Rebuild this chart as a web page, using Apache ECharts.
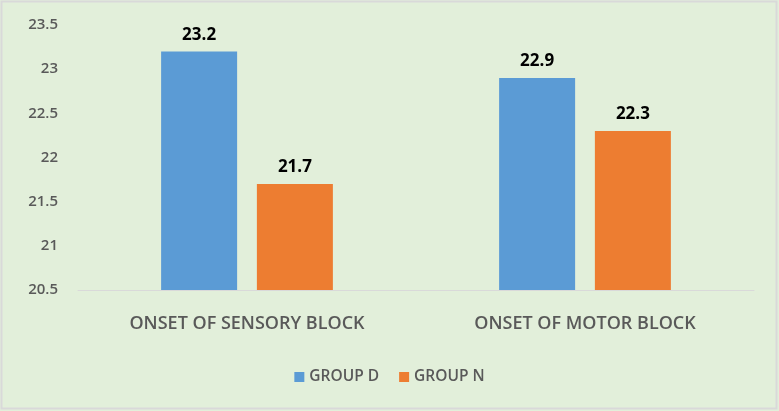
<!DOCTYPE html>
<html><head><meta charset="utf-8">
<script src="https://cdn.jsdelivr.net/npm/echarts@6/dist/echarts.min.js"></script>
<style>html,body{margin:0;padding:0;background:#fff}#c{width:779px;height:411px}</style>
</head><body><div id="c"></div>
<script>
const categories = ["ONSET OF SENSORY BLOCK", "ONSET OF MOTOR BLOCK"];
const groupD = [23.2, 22.9];
const groupN = [21.7, 22.3];
const seriesNames = ["GROUP D", "GROUP N"];
const yMin = 20.5, yMax = 23.5, yStep = 0.5;

const chart = echarts.init(document.getElementById('c'), null, {renderer: 'canvas'});
const font = "Open Sans, Liberation Sans, sans-serif";
const label = {show: true, position: 'top', distance: 8, color: '#000', fontWeight: 'bold', fontSize: 17, fontFamily: font};
chart.setOption({
  backgroundColor: '#e2efda',
  animation: false,
  graphic: [{type: 'rect', shape: {x: 1.5, y: 1.5, width: 775, height: 407}, style: {fill: 'none', stroke: '#d9d9d9', lineWidth: 2}}],
  grid: {left: 78, right: 25, top: 25, bottom: 121, containLabel: false},
  legend: {
    data: seriesNames, bottom: 21, left: 'center', itemWidth: 10, itemHeight: 10, itemGap: 20, icon: 'rect',
    textStyle: {color: '#595959', fontSize: 15.5, fontWeight: 600, fontFamily: font}
  },
  xAxis: {
    type: 'category', data: categories,
    axisLine: {lineStyle: {color: '#d9d9d9', width: 1}}, axisTick: {show: false},
    axisLabel: {color: '#595959', fontSize: 18, fontWeight: 600, fontFamily: font, margin: 25}
  },
  yAxis: {
    type: 'value', min: yMin, max: yMax, interval: yStep,
    axisLine: {show: false}, axisTick: {show: false}, splitLine: {show: false},
    axisLabel: {color: '#595959', fontSize: 15, fontWeight: 600, fontFamily: font, margin: 20}
  },
  series: [
    {name: seriesNames[0], type: 'bar', data: groupD, barWidth: 76, barGap: '26%', itemStyle: {color: '#5b9bd5'}, label: label},
    {name: seriesNames[1], type: 'bar', data: groupN, barWidth: 76, itemStyle: {color: '#ed7d31'}, label: label}
  ]
});
</script></body></html>
